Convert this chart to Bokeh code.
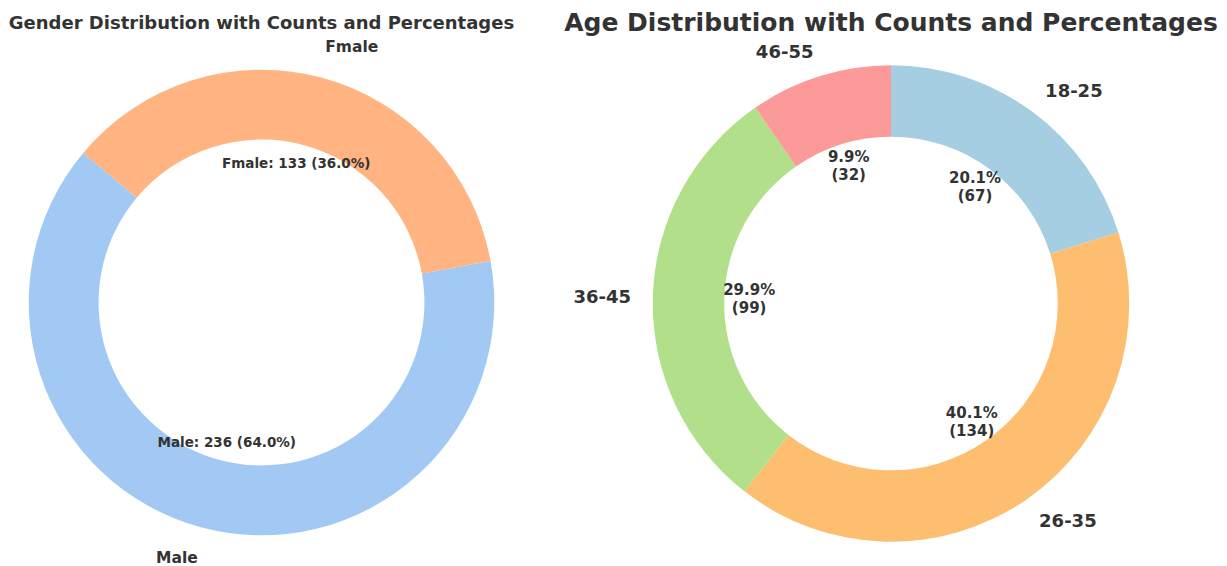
import numpy as np
from bokeh.plotting import figure
from bokeh.models import ColumnDataSource, Range1d
from bokeh.core.properties import value, field
from bokeh.embed import file_html
from bokeh.resources import INLINE

# ---- data ----
gender_labels = ["Male", "Fmale"]
gender_counts = [236, 133]
gender_colors = ["#a1c9f4", "#ffb482"]

age_labels = ["18-25", "26-35", "36-45", "46-55"]
age_counts = [67, 134, 99, 32]
age_pct = ["20.1", "40.1", "29.9", "9.9"]
age_colors = ["#a6cee3", "#fdbf6f", "#b2df8a", "#fb9a99"]

TXT = "#333333"
FONT = value("DejaVu Sans")

W, H = 1227, 566
p = figure(width=W, height=H, output_backend="svg", toolbar_location=None,
           x_range=Range1d(0, W), y_range=Range1d(0, H),
           x_axis_location=None, y_axis_location=None,
           min_border=0, outline_line_color=None, tools="")
p.grid.visible = False


def donut(cx, cy, rx, ry, counts, colors, start_deg, clockwise):
    counts = np.asarray(counts, dtype=float)
    frac = counts / counts.sum()
    deg = frac * 360.0
    cum = np.concatenate([[0.0], np.cumsum(deg)])
    if clockwise:
        a0 = start_deg - cum[1:]
        a1 = start_deg - cum[:-1]
    else:
        a0 = start_deg + cum[:-1]
        a1 = start_deg + cum[1:]
    mid = np.radians((a0 + a1) / 2.0)
    r_out = (rx + ry) / 2.0
    src = ColumnDataSource(dict(x=[cx] * len(counts), y=[cy] * len(counts),
                                start=np.radians(a0), end=np.radians(a1),
                                color=colors))
    p.annular_wedge(x="x", y="y", inner_radius=r_out * 0.7, outer_radius=r_out,
                    start_angle="start", end_angle="end", fill_color="color",
                    line_color=None, source=src)
    return frac, mid


def outer_labels(cx, cy, rx, ry, mid, labels, size):
    xs = cx + 1.1 * rx * np.cos(mid)
    ys = cy + 1.1 * ry * np.sin(mid)
    align = ["left" if c > 0 else "right" for c in np.cos(mid)]
    src = ColumnDataSource(dict(x=xs, y=ys, t=labels, align=align))
    p.text(x="x", y="y", text="t", source=src, text_align=field("align"),
           text_baseline="middle", text_font=FONT, text_font_style="bold",
           text_font_size=size, text_color=TXT)


def inner_labels(cx, cy, rx, ry, mid, texts, size):
    xs = cx + 0.6 * rx * np.cos(mid)
    ys = cy + 0.6 * ry * np.sin(mid)
    src = ColumnDataSource(dict(x=xs, y=ys, t=texts))
    p.text(x="x", y="y", text="t", source=src, text_align="center",
           text_baseline="middle", text_font=FONT, text_font_style="bold",
           text_font_size=size, text_color=TXT, text_line_height=1.0)


# ---- Gender donut ----
gcx, gcy, grx, gry = 261, H - 302, 225.5, 240
gfrac, gmid = donut(gcx, gcy, grx, gry, gender_counts, gender_colors, 140, False)
outer_labels(gcx, gcy, grx, gry, gmid, gender_labels, "15.5px")
inner_labels(gcx, gcy, grx, gry, gmid,
             [f"{l}: {c} ({f*100:.1f}%)" for l, c, f in zip(gender_labels, gender_counts, gfrac)],
             "13.5px")
p.text(x=[gcx], y=[H - 22], text=["Gender Distribution with Counts and Percentages"],
       text_align="center", text_baseline="middle", text_font=FONT,
       text_font_style="bold", text_font_size="18px", text_color=TXT)

# ---- Age donut ----
acx, acy, arx, ary = 890.5, H - 303, 236.5, 240
afrac, amid = donut(acx, acy, arx, ary, age_counts, age_colors, 90, True)
outer_labels(acx, acy, arx, ary, amid, age_labels, "18px")
inner_labels(acx, acy, arx, ary, amid,
             [f"{pc}%\n({c})" for pc, c in zip(age_pct, age_counts)], "15px")
p.text(x=[acx], y=[H - 22], text=["Age Distribution with Counts and Percentages"],
       text_align="center", text_baseline="middle", text_font=FONT,
       text_font_style="bold", text_font_size="25px", text_color=TXT)

open("out.html", "w").write(file_html(p, INLINE))
